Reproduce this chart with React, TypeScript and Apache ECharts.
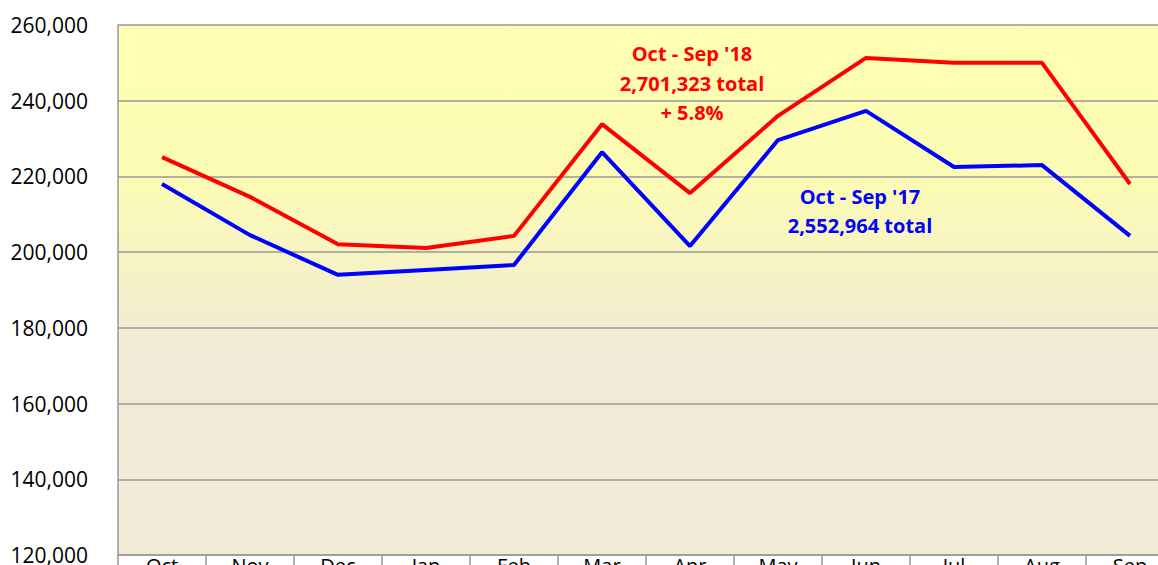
import React, { useEffect, useRef } from "react";
import * as echarts from "echarts";

const months = ["Oct", "Nov", "Dec", "Jan", "Feb", "Mar", "Apr", "May", "Jun", "Jul", "Aug", "Sep"];
const fy18 = [225100, 214600, 202100, 201100, 204300, 233800, 215600, 236000, 251300, 250000, 250000, 218000];
const fy17 = [218000, 204500, 194000, 195300, 196600, 226400, 201600, 229600, 237300, 222500, 223000, 204300];
const label18 = ["Oct - Sep '18", "2,701,323 total", "+ 5.8%"];
const label17 = ["Oct - Sep '17", "2,552,964 total"];

export default function App() {
  const ref = useRef<HTMLDivElement>(null);
  useEffect(() => {
    if (!ref.current) return;
    const chart = echarts.init(ref.current, null, { renderer: "svg" });
    const font = "'Open Sans', 'Liberation Sans', sans-serif";
    const annStyle = (color: string, text: string) => ({
      fill: color,
      font: `bold 20px ${font}`,
      text,
      x: 0,
      y: 0,
      textAlign: "center",
      textVerticalAlign: "middle",
    });
    const ann = [
      { x: 692, y: 53, color: "#FF0000", text: label18[0] },
      { x: 692, y: 83, color: "#FF0000", text: label18[1] },
      { x: 692, y: 112, color: "#FF0000", text: label18[2] },
      { x: 860, y: 196, color: "#0000FF", text: label17[0] },
      { x: 860, y: 225, color: "#0000FF", text: label17[1] },
    ];
    chart.setOption({
      animation: false,
      grid: {
        left: 118,
        top: 25,
        width: 1056,
        height: 530,
        outerBoundsMode: "none",
        containLabel: false,
        show: true,
        borderWidth: 0,
        backgroundColor: new echarts.graphic.LinearGradient(0, 0, 0, 1, [
          { offset: 0, color: "#FFFFB3" },
          { offset: 0.3, color: "#FCFBB5" },
          { offset: 0.62, color: "#F0EAD6" },
          { offset: 1, color: "#F0EAD6" },
        ]),
      },
      xAxis: {
        type: "category",
        data: months,
        boundaryGap: true,
        axisLine: { lineStyle: { color: "#999999", width: 1.5 } },
        axisTick: { show: true, alignWithLabel: false, interval: 0, length: 12, lineStyle: { color: "#999999", width: 1.5 } },
        axisLabel: { color: "#000", fontSize: 20, fontFamily: font, margin: 0, interval: 0 },
      },
      yAxis: {
        type: "value",
        min: 120000,
        max: 260000,
        interval: 20000,
        axisLine: { show: true, lineStyle: { color: "#999999", width: 1.5 } },
        axisTick: { show: false },
        splitLine: { lineStyle: { color: "#999999", width: 1.5 } },
        axisLabel: {
          color: "#000",
          fontSize: 21,
          fontFamily: font,
          margin: 30,
          formatter: (v: number) => v.toLocaleString("en-US"),
        },
      },
      series: [
        {
          name: "Oct - Sep '18",
          type: "line",
          data: fy18,
          symbol: "none",
          lineStyle: { color: "#FF0000", width: 4 },
          z: 3,
        },
        {
          name: "Oct - Sep '17",
          type: "line",
          data: fy17,
          symbol: "none",
          lineStyle: { color: "#0000FF", width: 4 },
          z: 3,
        },
      ],
      graphic: ann.map((a) => ({
        type: "text",
        x: a.x,
        y: a.y,
        z: 10,
        style: annStyle(a.color, a.text),
      })),
    });
    return () => chart.dispose();
  }, []);
  return (
    <div
      ref={ref}
      style={{ position: "absolute", left: 0, top: 0, width: 1158, height: 565, background: "#fff" }}
    />
  );
}
